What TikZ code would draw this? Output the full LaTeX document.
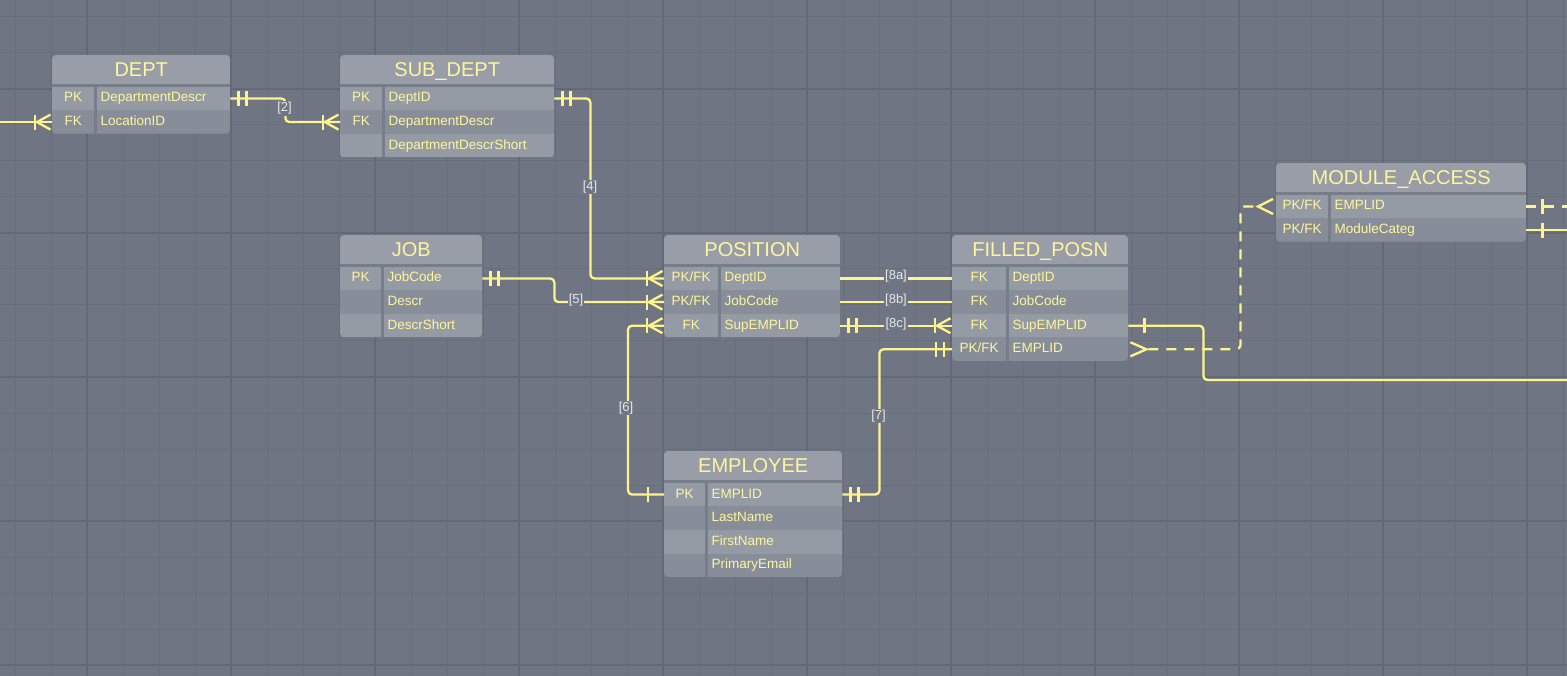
\documentclass[tikz,border=0pt]{standalone}
\usepackage{fontspec}
\setmainfont{Liberation Sans}
\usetikzlibrary{calc}
\definecolor{bg}{HTML}{6F7582}
\definecolor{gridminor}{HTML}{686E7A}
\definecolor{gridmajor}{HTML}{636975}
\definecolor{hdrc}{HTML}{989DA7}
\definecolor{rowa}{HTML}{959BA5}
\definecolor{rowb}{HTML}{888E99}
\definecolor{divc}{HTML}{777D89}
\definecolor{txt}{HTML}{FFF59D}
\definecolor{connc}{HTML}{FFF38C}
\definecolor{lblc}{HTML}{E6E8EC}

\tikzset{
  hdr/.style={fill=hdrc, text=txt, font=\fontsize{20}{20}\selectfont, minimum height=29pt, inner sep=0pt, text height=14pt, text depth=0pt, anchor=north west},
  keycell/.style={text=txt, font=\fontsize{13.5}{13.5}\selectfont, minimum height=23.6pt, inner sep=0pt, text height=9.5pt, text depth=2.5pt, anchor=north west},
  fieldcell/.style={text=txt, font=\fontsize{13.5}{13.5}\selectfont, minimum height=23.6pt, inner xsep=4pt, inner ysep=0pt, text height=9.5pt, text depth=2.5pt, align=left, anchor=north west},
  link/.style={draw=connc, line width=2.3pt, rounded corners=4pt},
  dashlink/.style={link, dash pattern=on 10pt off 8pt},
  mk/.style={draw=connc, line width=2.3pt},
  lbl/.style={fill=bg, text=lblc, font=\fontsize{13}{13}\selectfont, inner sep=1.2pt},
}

\newcommand\erhead[7]{%
  \def\tn{#1}\def\tx{#2}\def\ty{#3}\def\tw{#4}\def\tk{#5}%
  \pgfmathsetmacro\tb{#3+31.5+23.6*#7}%
  \begin{scope}
  \fill[divc, rounded corners=4pt] (#2,#3) rectangle (#2+#4,\tb);
  \clip[rounded corners=4pt] (#2,#3) rectangle (#2+#4,\tb);
  \node[hdr, minimum width=#4pt] (#1) at (#2,#3) {#6};
}
\newcommand\erend{\end{scope}}
\newcommand\errow[3]{%
  \pgfmathsetmacro\ry{\ty+31.5+23.6*(#1-1)}%
  \ifodd#1\relax\def\rc{rowa}\else\def\rc{rowb}\fi
  \pgfmathsetmacro\kwid{\tk-1}%
  \pgfmathsetmacro\ftw{\tw-\tk-9.5}%
  \node[keycell, fill=\rc, minimum width=\kwid pt] (\tn-k#1) at (\tx,\ry) {#2};
  \node[fieldcell, fill=\rc, text width=\ftw pt] (\tn-f#1) at (\tx+\tk+1.5,\ry) {#3};
}
\newcommand\mkbar[2]{\draw[mk] ($#1+(#2,-7.5)$) -- ($#1+(#2,7.5)$);}
\newcommand\crowfoot[2]{%
  \draw[mk] ($#1+(#2*15,0)$) -- ($#1+(#2*1.5,-7.5)$);
  \draw[mk] ($#1+(#2*15,0)$) -- ($#1+(#2*1.5,7.5)$);
  \draw[mk] ($#1+(#2*17,-7.5)$) -- ($#1+(#2*17,7.5)$);}

\begin{document}
\begin{tikzpicture}[x=1pt,y=-1pt]
\useasboundingbox (0,0) rectangle (1567,676);
\fill[bg] (0,0) rectangle (1567,676);
% grid
\foreach \g in {15,51,...,1563} \draw[gridminor, line width=1pt] (\g,0) -- (\g,676);
\foreach \g in {17,53,...,665} \draw[gridminor, line width=1pt] (0,\g) -- (1567,\g);
\foreach \g in {87,231,...,1527} \draw[gridmajor, line width=1.2pt] (\g,0) -- (\g,676);
\foreach \g in {89,233,...,665} \draw[gridmajor, line width=1.2pt] (0,\g) -- (1567,\g);

% tables
\erhead{dept}{52}{55}{178}{43}{DEPT}{2}
\errow{1}{PK}{DepartmentDescr}
\errow{2}{FK}{LocationID}
\erend

\erhead{subdept}{340}{55}{214}{43}{SUB\_DEPT}{3}
\errow{1}{PK}{DeptID}
\errow{2}{FK}{DepartmentDescr}
\errow{3}{}{DepartmentDescrShort}
\erend

\erhead{job}{340}{235}{142}{42}{JOB}{3}
\errow{1}{PK}{JobCode}
\errow{2}{}{Descr}
\errow{3}{}{DescrShort}
\erend

\erhead{position}{664}{235}{176}{55}{POSITION}{3}
\errow{1}{PK/FK}{DeptID}
\errow{2}{PK/FK}{JobCode}
\errow{3}{FK}{SupEMPLID}
\erend

\erhead{filled}{952}{235}{176}{55}{FILLED\_POSN}{4}
\errow{1}{FK}{DeptID}
\errow{2}{FK}{JobCode}
\errow{3}{FK}{SupEMPLID}
\errow{4}{PK/FK}{EMPLID}
\erend

\erhead{module}{1276}{163}{250}{53}{MODULE\_ACCESS}{2}
\errow{1}{PK/FK}{EMPLID}
\errow{2}{PK/FK}{ModuleCateg}
\erend

\erhead{employee}{664}{451}{178}{42}{EMPLOYEE}{4}
\errow{1}{PK}{EMPLID}
\errow{2}{}{LastName}
\errow{3}{}{FirstName}
\errow{4}{}{PrimaryEmail}
\erend

% connectors
\coordinate (edgeW) at ($(dept-k2.west)+(-60,0)$);
\draw[link] (edgeW) -- (dept-k2.west);
\crowfoot{(dept-k2.west)}{-1}

% [2]
\draw[link] (dept-f1.east) -- ++(55,0) |- (subdept-k2.west);
\mkbar{(dept-f1.east)}{8}\mkbar{(dept-f1.east)}{16}
\crowfoot{(subdept-k2.west)}{-1}

% [4]
\draw[link] (subdept-f1.east) -- ++(36,0) |- (position-k1.west);
\mkbar{(subdept-f1.east)}{8}\mkbar{(subdept-f1.east)}{16}
\crowfoot{(position-k1.west)}{-1}

% [5]
\draw[link] (job-f1.east) -- ++(72,0) |- (position-k2.west);
\mkbar{(job-f1.east)}{8}\mkbar{(job-f1.east)}{16}
\crowfoot{(position-k2.west)}{-1}

% [6]
\draw[link] (employee-k1.west) -- ++(-36,0) |- (position-k3.west);
\mkbar{(employee-k1.west)}{-16}
\crowfoot{(position-k3.west)}{-1}

% [7]
\draw[link] (employee-f1.east) -- ++(37,0) |- (filled-k4.west);
\mkbar{(employee-f1.east)}{8}\mkbar{(employee-f1.east)}{16}
\mkbar{(filled-k4.west)}{-8}\mkbar{(filled-k4.west)}{-16}

% [8a] [8b] [8c]
\draw[link] (position-f1.east) -- (filled-k1.west);
\draw[link] (position-f2.east) -- (filled-k2.west);
\draw[link] (position-f3.east) -- (filled-k3.west);
\mkbar{(position-f3.east)}{8}\mkbar{(position-f3.east)}{16}
\crowfoot{(filled-k3.west)}{-1}

% FILLED SupEMPLID to right edge
\coordinate (edgeE1) at (1580,380);
\draw[link] (filled-f3.east) -- ++(75,0) |- (edgeE1);
\mkbar{(filled-f3.east)}{16}

% dashed FILLED EMPLID to MODULE EMPLID
\draw[mk] ($(filled-f4.east)+(2,-7)$) -- ($(filled-f4.east)+(18,0)$) -- ($(filled-f4.east)+(2,7)$);
\draw[dashlink] ($(filled-f4.east)+(20,0)$) -- ++(92,0) |- ($(module-k1.west)+(-18,0)$);
\draw[mk] ($(module-k1.west)+(-3,-7.5)$) -- ($(module-k1.west)+(-18,0)$) -- ($(module-k1.west)+(-3,7.5)$);

% MODULE right edge
\coordinate (edgeE2) at ($(module-f1.east)+(55,0)$);
\draw[dashlink] (module-f1.east) -- (edgeE2);
\mkbar{(module-f1.east)}{16}
\coordinate (edgeE3) at ($(module-f2.east)+(55,0)$);
\draw[link] (module-f2.east) -- (edgeE3);
\mkbar{(module-f2.east)}{16}

% labels
\node[lbl] (l2) at (284.5,108.5) {[2]};
\node[lbl] (l4) at (590,187) {[4]};
\node[lbl] (l5) at (576,300.5) {[5]};
\node[lbl] (l6) at (626,408) {[6]};
\node[lbl] (l7) at (878.5,416) {[7]};
\node[lbl] (l8a) at (896,276.5) {[8a]};
\node[lbl] (l8b) at (896,300.5) {[8b]};
\node[lbl] (l8c) at (896,324.5) {[8c]};
\end{tikzpicture}
\end{document}
